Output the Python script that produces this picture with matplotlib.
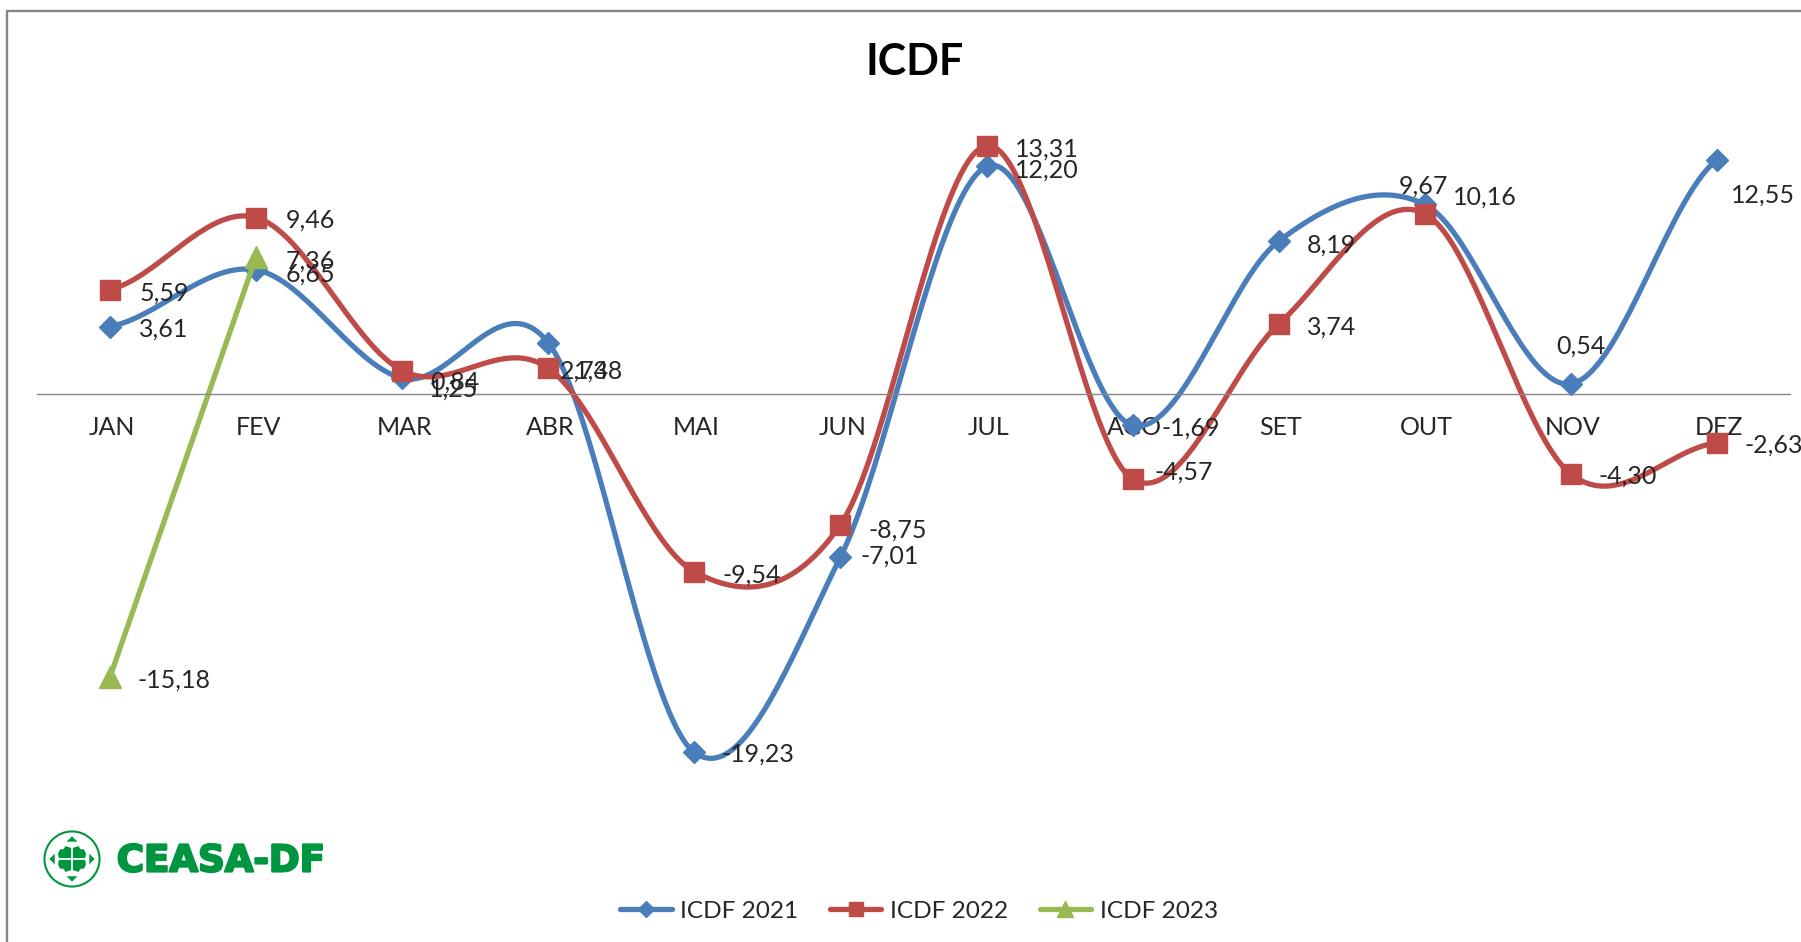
import numpy as np
from matplotlib import pyplot as plt
from matplotlib import patches
from matplotlib import patheffects
from matplotlib.transforms import ScaledTranslation

months = ["JAN", "FEV", "MAR", "ABR", "MAI", "JUN", "JUL", "AGO", "SET", "OUT", "NOV", "DEZ"]
icdf_2021 = [3.61, 6.65, 0.84, 2.74, -19.23, -8.75, 12.20, -1.69, 8.19, 10.16, 0.54, 12.55]
icdf_2022 = [5.59, 9.46, 1.25, 1.38, -9.54, -7.01, 13.31, -4.57, 3.74, 9.67, -4.30, -2.63]
icdf_2023 = [-15.18, 7.36]

# label offsets from each marker, in pixels (placed by hand in the original)
offsets_2021 = [(54, -2), (54, -4), (53, -4), (36, -28), (64, -2), (57, 27),
                (60, -4), (58, -3), (53, -4), (60, 7), (10, 38), (46, -35)]
offsets_2022 = [(54, -3), (54, -3), (51, -18), (50, -3), (57, -3), (49, -31),
                (60, -3), (51, 7), (53, -3), (-1, 28), (57, -2), (57, -2)]
offsets_2023 = [(64, -3), (54, -4)]

BLUE = "#4A7EBB"
RED = "#BE4B48"
GREEN = "#98B954"
GRAY = "#868686"
LOGO = "#00963F"
TEXT = "#262626"
SAMPLES = 40

plt.rcParams["font.family"] = ["Lato", "DejaVu Sans"]


def smooth(values):
    # Catmull-Rom curve through the points, like Excel's smoothed lines
    y = np.array(values, dtype=float)
    x = np.arange(len(y), dtype=float)
    t = np.linspace(0, 1, SAMPLES, endpoint=False)
    xs, ys = [], []
    for i in range(len(y) - 1):
        y0 = y[max(i - 1, 0)]
        y3 = y[min(i + 2, len(y) - 1)]
        m1 = (y[i + 1] - y0) / 2
        m2 = (y3 - y[i]) / 2
        h1 = 2 * t**3 - 3 * t**2 + 1
        h2 = t**3 - 2 * t**2 + t
        h3 = -2 * t**3 + 3 * t**2
        h4 = t**3 - t**2
        xs.append(x[i] + t)
        ys.append(h1 * y[i] + h2 * m1 + h3 * y[i + 1] + h4 * m2)
    xs.append([x[-1]])
    ys.append([y[-1]])
    return np.concatenate(xs), np.concatenate(ys)


def draw_series(ax, values, offsets, color, marker, size, label, smoothed=True):
    if smoothed:
        xs, ys = smooth(values)
        every = SAMPLES
    else:
        xs, ys = np.arange(len(values)), np.array(values)
        every = 1
    ax.plot(xs, ys, color=color, lw=3.8, marker=marker, ms=size, markevery=every,
            mec=color, mfc=color, label=label, solid_capstyle="round")
    for i, value in enumerate(values):
        ax.annotate(f"{value:.2f}".replace(".", ","), (i, value), xytext=offsets[i],
                    textcoords="offset pixels", ha="center", va="center",
                    fontsize=18, color=TEXT, annotation_clip=False, zorder=6)


fig = plt.figure(figsize=(18.01, 9.42), dpi=100)

# overlay in pixel coordinates for frame, title and logo
bg = fig.add_axes([0, 0, 1, 1])
bg.set_xlim(0, 1801)
bg.set_ylim(942, 0)
bg.axis("off")
bg.plot([7, 7, 1801], [942, 11, 11], color=GRAY, lw=1.7)
bg.text(915, 62, "ICDF", fontsize=31, fontweight="bold", color="black", ha="center", va="center")

# CEASA-DF logo, centred on (72, 858)
icon = bg.transData
logo_shift = patches.Affine2D().translate(-62, -858).scale(1.08).translate(72, 859) + icon
bg.add_patch(patches.Circle((62, 858), 25.5, fc="white", ec=LOGO, lw=1.5, transform=logo_shift))
bg.add_patch(patches.Polygon([(56, 846), (62, 848), (68, 846), (70, 849), (73, 849), (75, 853),
                              (74, 858), (75, 863), (73, 867), (70, 867), (68, 870), (62, 868),
                              (56, 870), (54, 867), (51, 867), (49, 863), (50, 858), (49, 853),
                              (51, 849), (54, 849)], fc=LOGO, ec="none", transform=logo_shift))
bg.plot([62, 62], [845, 871], color="white", lw=1.3, transform=logo_shift)
bg.plot([48, 76], [858, 858], color="white", lw=1.3, transform=logo_shift)
for tri in ([(62, 837), (57, 842), (67, 842)], [(62, 879), (57, 874), (67, 874)],
            [(41, 858), (46, 853), (46, 863)], [(83, 858), (78, 853), (78, 863)]):
    bg.add_patch(patches.Polygon(tri, fc=LOGO, ec="none", transform=logo_shift))
bg.text(221, 861, "CEASA-DF", fontsize=26.7, fontweight="bold", family="DejaVu Sans", color=LOGO,
        ha="center", va="center",
        path_effects=[patheffects.withStroke(linewidth=1.6, foreground=LOGO)])

ax = fig.add_axes([37 / 1801, (942 - 860) / 942, 1753 / 1801, 839 / 942])
ax.patch.set_alpha(0)
ax.set_xlim(-0.5, 11.5)
ax.set_ylim(-25, 20)

draw_series(ax, icdf_2021, offsets_2021, BLUE, "D", 11, "ICDF 2021")
draw_series(ax, icdf_2022, offsets_2022, RED, "s", 15, "ICDF 2022")
draw_series(ax, icdf_2023, offsets_2023, GREEN, "^", 16, "ICDF 2023", smoothed=False)

for side in ["top", "left", "right"]:
    ax.spines[side].set_visible(False)
ax.spines["bottom"].set_position(("data", 0))
ax.spines["bottom"].set_color(GRAY)
ax.spines["bottom"].set_linewidth(1)
ax.set_yticks([])
ax.set_xticks(range(len(months)))
ax.set_xticklabels(months, fontsize=18, color=TEXT)
ax.tick_params(axis="x", length=0, pad=16)
for tick_label in ax.get_xticklabels():
    tick_label.set_transform(tick_label.get_transform() + ScaledTranslation(2 / 100, 0, fig.dpi_scale_trans))

ax.legend(loc="center", bbox_to_anchor=(919 / 1801, (942 - 911) / 942),
          bbox_transform=fig.transFigure, ncols=3, frameon=False, fontsize=17.6,
          handlelength=2.1, handletextpad=0.35, columnspacing=1.3, markerscale=0.7,
          labelcolor=TEXT)

fig.savefig("out.png", dpi=100)
